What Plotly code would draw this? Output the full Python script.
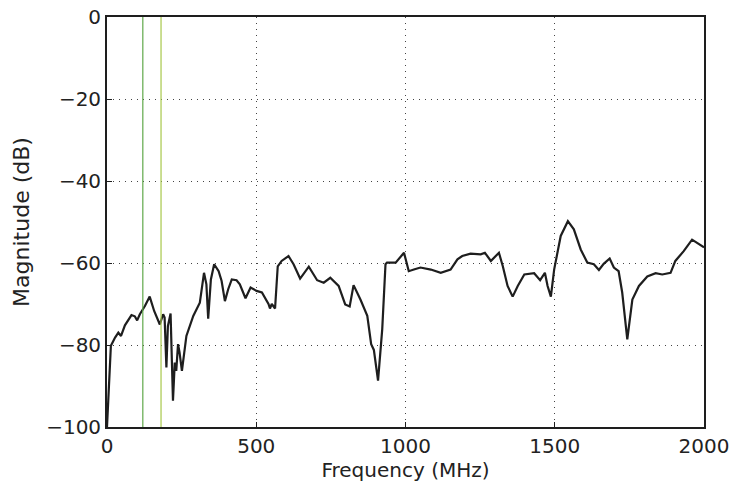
import plotly.graph_objects as go

freq_mhz = [0, 13, 27, 38, 47, 60, 82, 93, 101, 110, 127, 143, 158, 177, 188, 193, 199, 204, 213, 221,
            227, 232, 238, 243, 251, 266, 289, 311, 325, 333, 339, 348, 359, 374, 384, 395, 406, 418,
            434, 445, 464, 481, 501, 519, 541, 546, 552, 563, 572, 585, 608, 625, 647, 676, 704, 726,
            748, 776, 798, 813, 826, 849, 872, 885, 894, 908, 922, 933, 938, 967, 995, 1011, 1028, 1050,
            1085, 1118, 1151, 1174, 1190, 1218, 1252, 1266, 1286, 1302, 1313, 1326, 1342, 1359, 1376,
            1398, 1431, 1451, 1467, 1476, 1487, 1498, 1520, 1544, 1564, 1587, 1609, 1631, 1648, 1664,
            1684, 1698, 1714, 1726, 1743, 1760, 1782, 1810, 1838, 1860, 1888, 1904, 1932, 1960, 1986, 2000]
magnitude_db = [-100, -80.2, -78.2, -77, -77.8, -75.2, -72.7, -73, -74, -72.5, -70.5, -68.2, -71.7, -75,
                -72.5, -73.3, -85.5, -75.4, -72.3, -93.6, -84.3, -86.3, -79.8, -81.8, -86.3, -77.8, -72.9,
                -69.7, -62.4, -65.2, -73.6, -64, -60.3, -62, -64.4, -69.3, -66.4, -64, -64.2, -65.2, -68.6,
                -66, -66.8, -67.2, -70, -71.1, -70, -71.1, -60.8, -59.5, -58.3, -60.3, -63.8, -60.9, -64.2,
                -64.8, -63.6, -65.6, -70.1, -70.6, -65.4, -68.9, -72.9, -79.8, -81.2, -88.7, -76.2, -60.3,
                -59.9, -59.9, -57.5, -62, -61.6, -61.1, -61.6, -62.4, -61.6, -59.1, -58.3, -57.7, -57.9,
                -57.5, -59.5, -58.3, -57.5, -60.8, -65.6, -68.2, -65.6, -62.8, -62.5, -64.2, -62.4, -65.6,
                -68.2, -61.6, -53.4, -49.8, -51.8, -56.7, -59.9, -60.3, -61.7, -60.2, -58.9, -61.1, -62,
                -67.2, -78.6, -68.9, -65.6, -63.3, -62.5, -62.8, -62.4, -59.5, -57.1, -54.3, -55.5, -56.2]

marker_freqs = [120, 181]
marker_colors = ["#5fa84a", "#a8c84a"]

x_ticks = [0, 500, 1000, 1500, 2000]
y_ticks = [0, -20, -40, -60, -80, -100]

fig = go.Figure()
fig.add_trace(go.Scatter(x=freq_mhz, y=magnitude_db, mode="lines",
                         line=dict(color="#1e1e1e", width=2.2), showlegend=False))
for f, c in zip(marker_freqs, marker_colors):
    fig.add_vline(x=f, line=dict(color=c, width=1.2), layer="above")

font_family = "DejaVu Sans"
grid_style = dict(showgrid=True, gridcolor="#444", griddash="1px,5px", gridwidth=1.3)
fig.update_layout(
    width=732, height=482,
    margin=dict(l=107, r=28, t=17, b=55),
    paper_bgcolor="white", plot_bgcolor="white",
    font=dict(family=font_family, size=20, color="#222"),
    xaxis=dict(range=[0, 2000], tickvals=x_ticks, ticktext=[str(v) for v in x_ticks],
               **grid_style, automargin=False,
               showline=True, linecolor="#1e1e1e", linewidth=1.8, mirror=True,
               ticks="inside", ticklen=5, tickcolor="#1e1e1e", zeroline=False,
               tickfont=dict(size=20),
               title=dict(text="Frequency (MHz)", font=dict(size=20), standoff=8)),
    yaxis=dict(range=[-100, 0], tickvals=y_ticks,
               ticktext=["0" if v == 0 else "\u2212" + str(-v) for v in y_ticks],
               **grid_style, automargin=False,
               showline=True, linecolor="#1e1e1e", linewidth=1.8, mirror=True,
               ticks="inside", ticklen=5, tickcolor="#1e1e1e", zeroline=False,
               tickfont=dict(size=20),
               title=dict(text="Magnitude (dB)", font=dict(size=22), standoff=10)),
)
fig.write_html("out.html")
